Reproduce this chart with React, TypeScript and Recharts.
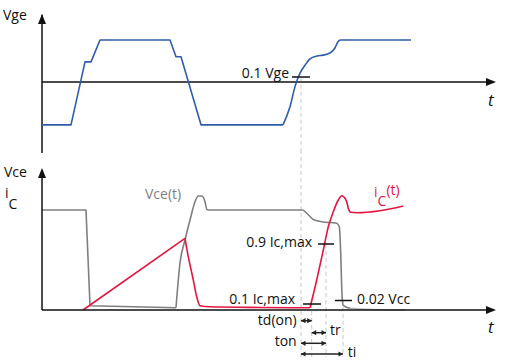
import React from 'react';
import { ComposedChart, Line, Scatter, XAxis, YAxis } from 'recharts';

// ---------- data (t: time units from the origin, v: normalised level) ----------
// Top panel: gate-emitter voltage Vge (on-level = 1)
const vgeSteps = [
  { t: 0, v: -1.02 }, { t: 29, v: -1.02 }, { t: 43, v: 0.48 }, { t: 49, v: 0.48 },
  { t: 58, v: 1 }, { t: 128, v: 1 }, { t: 134, v: 0.6 }, { t: 139, v: 0.6 },
  { t: 159, v: -1.02 }, { t: 241, v: -1.02 },
];
const vgeTurnOn = [
  { t: 241, v: -1.02 }, { t: 248, v: -0.59 }, { t: 253, v: -0.11 }, { t: 258, v: 0.21 },
  { t: 263, v: 0.4 }, { t: 268, v: 0.55 }, { t: 275, v: 0.62 }, { t: 281, v: 0.64 },
  { t: 288, v: 0.69 }, { t: 293, v: 0.81 }, { t: 296, v: 0.96 }, { t: 298, v: 1 },
];
const vgeOn = [{ t: 298, v: 1 }, { t: 369, v: 1 }];

// Bottom panel: collector-emitter voltage Vce (Vcc = 1) and collector current iC
const vceSteps = [
  { t: 0, v: 1 }, { t: 44, v: 1 }, { t: 48, v: 0.043 }, { t: 134, v: 0.023 },
];
const vceOvershoot = [
  { t: 134, v: 0.023 }, { t: 138, v: 0.47 }, { t: 143, v: 0.7 }, { t: 148, v: 0.9 },
  { t: 153, v: 1.083 }, { t: 156.3, v: 1.14 }, { t: 159.7, v: 1.14 }, { t: 163, v: 1.083 },
  { t: 164.7, v: 1.007 }, { t: 166, v: 1 },
];
const vceFlat = [{ t: 166, v: 1 }, { t: 261.3, v: 1 }];
const vceTurnOn = [
  { t: 261.3, v: 1 }, { t: 266, v: 0.955 }, { t: 271.3, v: 0.905 }, { t: 279.7, v: 0.883 },
  { t: 294.7, v: 0.867 }, { t: 297.3, v: 0.833 }, { t: 298.7, v: 0.57 }, { t: 299.7, v: 0.233 },
  { t: 301, v: 0.05 }, { t: 304, v: 0.03 }, { t: 308, v: 0.017 },
];
const vceTail = [
  { t: 308, v: 0.017 }, { t: 323, v: 0.007 }, { t: 364, v: 0 },
];
const icRamp = [{ t: 41, v: 0 }, { t: 143, v: 0.717 }];
const icTurnOff = [
  { t: 143, v: 0.717 }, { t: 146.3, v: 0.533 }, { t: 151.3, v: 0.3 }, { t: 154.7, v: 0.133 },
  { t: 158, v: 0.043 }, { t: 168, v: 0.032 }, { t: 218, v: 0.025 }, { t: 268, v: 0.022 },
];
const icTurnOn = [
  { t: 268, v: 0.022 }, { t: 274.7, v: 0.3 }, { t: 281.3, v: 0.6 }, { t: 286.3, v: 0.833 },
  { t: 291.3, v: 0.983 }, { t: 296.3, v: 1.1 }, { t: 299.7, v: 1.143 }, { t: 303, v: 1.117 },
  { t: 304.7, v: 1.083 }, { t: 306.3, v: 1.017 }, { t: 308.7, v: 0.977 }, { t: 314.7, v: 0.973 },
  { t: 338, v: 0.993 }, { t: 361.3, v: 1.04 },
];

// Axes
const topYAxis = [{ t: 0, v: -1.69 }, { t: 0, v: 1.6 }];
const topTAxis = [{ t: 0, v: 0 }, { t: 452, v: 0 }];
const botYAxis = [{ t: 0, v: 0 }, { t: 0, v: 1.4 }];
const botTAxis = [{ t: 0, v: 0 }, { t: 452, v: 0 }];

// Guides (dashed verticals)
const topGuide = [{ t: 259, v: 0.1 }, { t: 259, v: -1.62 }];
const botGuides = [
  [{ t: 259, v: 1.6 }, { t: 259, v: -0.47 }],
  [{ t: 269.7, v: 0.06 }, { t: 269.7, v: -0.47 }],
  [{ t: 284, v: 0.66 }, { t: 284, v: -0.47 }],
  [{ t: 301, v: 0.1 }, { t: 301, v: -0.47 }],
];

// Threshold ticks
const topTicks = [[{ t: 250, v: 0.119 }, { t: 268, v: 0.119 }]];
const botTicks = [
  [{ t: 276, v: 0.66 }, { t: 292, v: 0.66 }],
  [{ t: 261, v: 0.06 }, { t: 279, v: 0.06 }],
  [{ t: 293, v: 0.095 }, { t: 310, v: 0.095 }],
];

// Interval dimension lines
const intervals = [
  [{ t: 259, v: -0.107 }, { t: 269.7, v: -0.107 }],
  [{ t: 269.7, v: -0.227 }, { t: 284, v: -0.227 }],
  [{ t: 259, v: -0.333 }, { t: 284, v: -0.333 }],
  [{ t: 259, v: -0.44 }, { t: 301, v: -0.44 }],
];

const topHeads = [
  { t: 0, v: 1.619, dir: 'up', big: 1 },
  { t: 454, v: 0, dir: 'right', big: 1 },
];
const botHeads = [
  { t: 0, v: 1.42, dir: 'up', big: 1 },
  { t: 454, v: 0, dir: 'right', big: 1 },
  ...intervals.flatMap((seg) => [
    { t: seg[0].t, v: seg[0].v, dir: 'left', big: 0 },
    { t: seg[1].t, v: seg[1].v, dir: 'right', big: 0 },
  ]),
];

const topLabels = [
  { t: -39, v: 1.476, text: 'Vge', kind: 'start' },
  { t: 446, v: -0.571, text: 't', kind: 'time' },
  { t: 247, v: 0.107, text: '0.1 Vge', kind: 'end' },
];
const botLabels = [
  { t: -38, v: 1.33, text: 'Vce', kind: 'start' },
  { t: -37, v: 1.12, text: 'i', sub: 'C', kind: 'start' },
  { t: 446, v: -0.23, text: 't', kind: 'time' },
  { t: 103, v: 1.11, text: 'Vce(t)', kind: 'vce' },
  { t: 332, v: 1.13, text: 'i', sub: 'C', after: '(t)', kind: 'ic' },
  { t: 270, v: 0.63, text: '0.9 Ic,max', kind: 'end' },
  { t: 253, v: 0.065, text: '0.1 Ic,max', kind: 'end' },
  { t: 315, v: 0.065, text: '0.02 Vcc', kind: 'start' },
  { t: 254.7, v: -0.15, text: 'td(on)', kind: 'end' },
  { t: 288, v: -0.25, text: 'tr', kind: 'start' },
  { t: 254.7, v: -0.36, text: 'ton', kind: 'end' },
  { t: 305.7, v: -0.47, text: 'ti', kind: 'start' },
];

// ---------- styles ----------
const FONT = '"Open Sans", "Noto Sans", sans-serif';
const BLUE = '#2f5dab';
const RED = '#e3173f';
const GRAY = '#7f7f7f';
const TAIL = '#b4b4b4';
const GUIDE = '#c9c9c9';
const INK = '#111111';

const labelStyle: Record<string, { anchor: string; fill: string; size: number; italic?: boolean }> = {
  start: { anchor: 'start', fill: INK, size: 14 },
  end: { anchor: 'end', fill: INK, size: 14 },
  time: { anchor: 'start', fill: INK, size: 17, italic: true },
  vce: { anchor: 'start', fill: GRAY, size: 14 },
  ic: { anchor: 'start', fill: RED, size: 14 },
};

const renderHead = (p: any) => {
  const { cx, cy, payload } = p;
  const L = payload.big ? 10 : 4.5;
  const W = payload.big ? 4 : 2.6;
  const fill = payload.big ? INK : '#222';
  let pts = '';
  if (payload.dir === 'up') pts = `${cx},${cy} ${cx - W},${cy + L} ${cx + W},${cy + L}`;
  else if (payload.dir === 'right') pts = `${cx},${cy} ${cx - L},${cy - W} ${cx - L},${cy + W}`;
  else pts = `${cx},${cy} ${cx + L},${cy - W} ${cx + L},${cy + W}`;
  return <polygon points={pts} fill={fill} />;
};

const renderLabel = (p: any) => {
  const { cx, cy, payload } = p;
  const s = labelStyle[payload.kind];
  return (
    <text
      x={cx}
      y={cy}
      textAnchor={s.anchor as any}
      fill={s.fill}
      fontSize={s.size}
      fontFamily={FONT}
      fontStyle={s.italic ? 'italic' : 'normal'}
    >
      <tspan>{payload.text}</tspan>
      {payload.sub ? <tspan dy={payload.after ? 9 : 11}>{payload.sub}</tspan> : null}
      {payload.after ? <tspan dy={-11}>{payload.after}</tspan> : null}
    </text>
  );
};

const seg = (data: any[], key: string, stroke: string, width: number, type: any = 'linear', dash?: string) => (
  <Line
    key={key}
    data={data}
    dataKey="v"
    type={type}
    stroke={stroke}
    strokeWidth={width}
    strokeDasharray={dash}
    dot={false}
    activeDot={false}
    isAnimationActive={false}
    strokeLinejoin="round"
  />
);

const margin = { top: 0, right: 0, bottom: 0, left: 0 };

export default function App() {
  return (
    <div style={{ position: 'absolute', left: 0, top: 0, width: 505, height: 360, background: '#fff' }}>
      <div style={{ position: 'absolute', left: 0, top: -2 }}>
        <ComposedChart width={505} height={168} margin={margin}>
          <XAxis type="number" dataKey="t" domain={[-42, 463]} hide allowDataOverflow />
          <YAxis type="number" dataKey="v" domain={[-2, 2]} hide allowDataOverflow />
          {seg(topGuide, 'tg', GUIDE, 1, 'linear', '4 3')}
          {seg(topYAxis, 'ty', INK, 1.5)}
          {seg(topTAxis, 'tt', INK, 1.5)}
          {seg(vgeSteps, 'vg1', BLUE, 1.6)}
          {seg(vgeTurnOn, 'vg2', BLUE, 1.6, 'monotone')}
          {seg(vgeOn, 'vg3', BLUE, 1.6)}
          {topTicks.map((d, i) => seg(d, 'tk' + i, INK, 1.5))}
          <Scatter data={topHeads} dataKey="v" shape={renderHead} isAnimationActive={false} />
          <Scatter data={topLabels} dataKey="v" shape={renderLabel} isAnimationActive={false} />
        </ComposedChart>
      </div>
      <div style={{ position: 'absolute', left: 0, top: 150 }}>
        <ComposedChart width={505} height={210} margin={margin}>
          <XAxis type="number" dataKey="t" domain={[-42, 463]} hide allowDataOverflow />
          <YAxis type="number" dataKey="v" domain={[-0.5, 1.6]} hide allowDataOverflow />
          {botGuides.map((d, i) => seg(d, 'bg' + i, GUIDE, 1, 'linear', '4 3'))}
          {seg(vceSteps, 'vc1', GRAY, 1.6)}
          {seg(vceOvershoot, 'vc2', GRAY, 1.6, 'monotone')}
          {seg(vceFlat, 'vc3', GRAY, 1.6)}
          {seg(vceTurnOn, 'vc4', GRAY, 1.6, 'monotone')}
          {seg(vceTail, 'vc5', TAIL, 1.6, 'monotone')}
          {seg(icRamp, 'ic1', RED, 1.6)}
          {seg(icTurnOff, 'ic2', RED, 1.6, 'monotone')}
          {seg(icTurnOn, 'ic3', RED, 1.6, 'monotone')}
          {seg(botYAxis, 'by', INK, 1.5)}
          {seg(botTAxis, 'bt', INK, 1.5)}
          {botTicks.map((d, i) => seg(d, 'bk' + i, INK, 1.5))}
          {intervals.map((d, i) => seg(d, 'iv' + i, '#222', 1.5))}
          <Scatter data={botHeads} dataKey="v" shape={renderHead} isAnimationActive={false} />
          <Scatter data={botLabels} dataKey="v" shape={renderLabel} isAnimationActive={false} />
        </ComposedChart>
      </div>
    </div>
  );
}
